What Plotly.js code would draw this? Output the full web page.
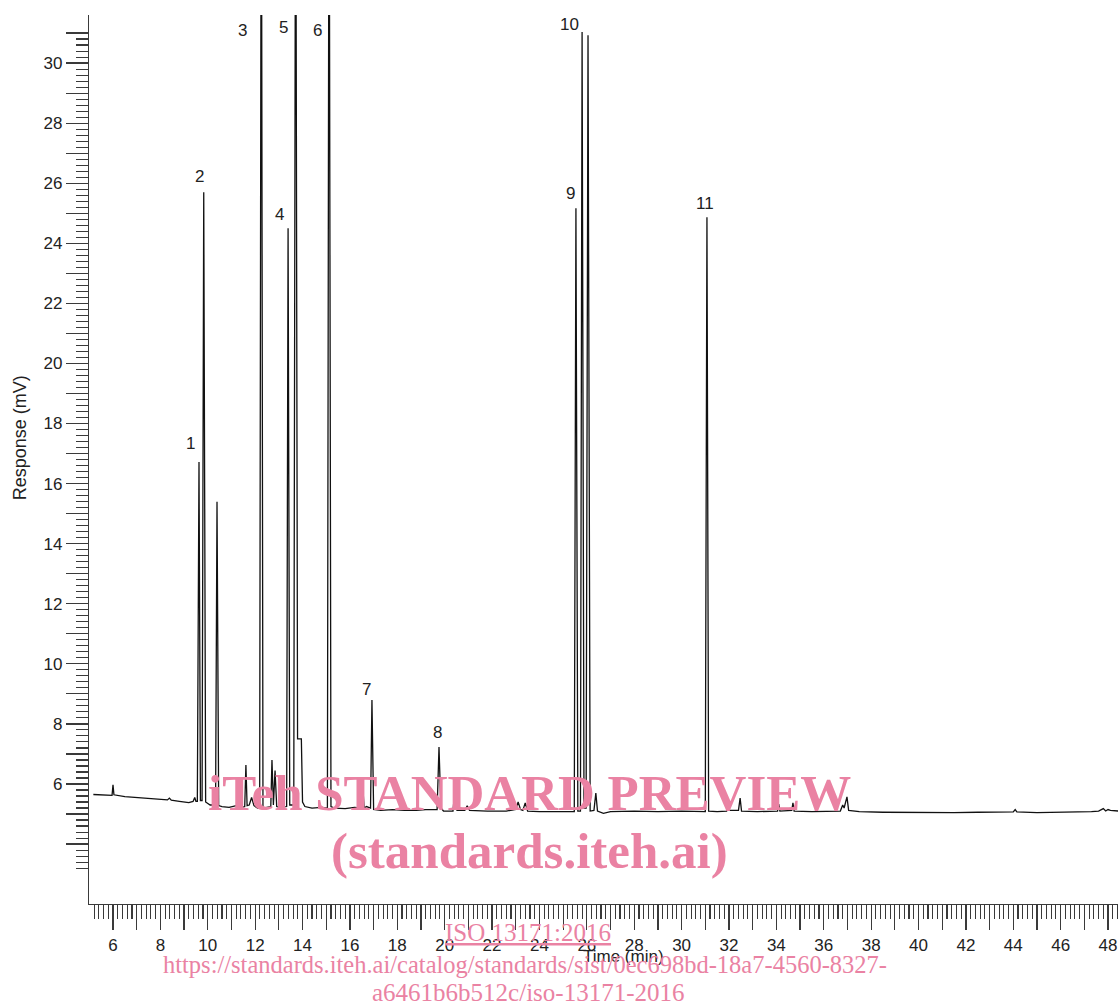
<!DOCTYPE html>
<html>
<head>
<meta charset="utf-8">
<script src="https://cdn.plot.ly/plotly-3.0.1.min.js"></script>
<style>html,body{margin:0;padding:0;background:#fff;}#chart{width:1118px;height:1008px;}</style>
</head>
<body>
<div id="chart"></div>
<script>
// Retention time (min)
const timeMin = [5.17,5.9,5.96,6.0,6.04,6.5,7.0,7.5,8.0,8.3,8.38,8.46,8.8,9.2,9.38,9.45,9.5,
  9.56,9.63,9.69,9.76,9.83,9.91,10.0,10.1,10.33,10.39,10.46,10.6,10.9,11.2,11.45,
  11.56,11.61,11.66,11.75,11.85,11.95,12.1,12.19,12.26,12.33,12.5,12.66,12.71,12.77,12.84,12.91,
  13.05,13.25,13.33,13.39,13.46,13.63,13.71,13.79,13.95,14.0,14.1,14.4,14.8,15.05,15.12,15.2,
  15.35,15.8,16.2,16.5,16.55,16.6,16.7,16.87,16.93,17.0,17.3,17.8,18.3,18.8,19.2,19.68,19.76,
  19.84,19.95,20.35,20.44,20.52,20.85,20.95,21.05,21.8,22.6,23.0,23.1,23.2,23.3,23.4,23.5,
  24.0,25.0,25.47,25.54,25.62,25.73,25.8,25.88,25.97,26.05,26.14,26.3,26.38,26.45,26.7,
  27.0,28.0,29.0,30.0,31.0,31.07,31.14,31.5,31.9,31.96,32.02,32.4,32.47,32.53,33.2,34.05,
  34.1,34.15,34.65,34.7,34.75,35.5,36.7,36.8,36.86,36.98,37.05,37.5,38.5,40.0,41.5,42.5,
  44.0,44.08,44.15,45.0,46.5,47.3,47.6,47.8,47.9,48.0,48.1,48.45];
// Detector response (mV)
const responseMV = [5.65,5.62,5.62,5.97,5.64,5.58,5.55,5.52,5.49,5.47,5.53,5.46,5.42,5.38,5.42,5.55,5.42,
  5.42,16.72,5.45,5.45,25.7,5.4,5.35,5.3,5.3,15.4,5.28,5.25,5.22,5.28,5.22,
  5.25,6.63,5.28,5.3,5.55,5.28,5.2,5.2,40,5.2,5.22,5.25,6.8,5.3,6.45,5.25,
  5.22,5.25,5.25,24.5,5.3,5.3,40,7.5,7.5,5.4,5.25,5.2,5.22,5.2,40,5.25,
  5.2,5.18,5.22,5.2,5.83,5.2,5.25,5.2,8.8,5.15,5.12,5.15,5.12,5.12,5.15,5.15,7.23,
  5.2,5.1,5.1,5.9,5.12,5.12,5.27,5.12,5.1,5.1,5.15,5.4,5.15,5.12,5.37,5.1,
  5.08,5.08,5.08,25.17,5.1,5.1,31.03,5.2,5.2,30.93,5.1,5.12,5.7,5.1,5.02,
  5.08,5.1,5.08,5.1,5.08,24.87,5.1,5.08,5.1,5.47,5.12,5.12,5.53,5.1,5.08,5.1,
  5.33,5.1,5.12,5.37,5.1,5.08,5.1,5.3,5.2,5.57,5.12,5.08,5.06,5.05,5.05,5.06,
  5.07,5.15,5.07,5.05,5.06,5.08,5.1,5.18,5.1,5.15,5.12,5.1];

// Peak numbers and where their labels sit (data coordinates)
const peakLabels = ['1','2','3','4','5','6','7','8','9','10','11'];
const labelTime = [9.25,9.67,11.45,13.01,13.18,14.65,16.72,19.68,25.33,25.25,30.99];
const labelResp = [17.32,26.24,31.07,24.97,31.17,31.07,9.13,7.70,25.67,31.27,25.31];

// Axis tick labels
const xTickLabels = ['6','8','10','12','14','16','18','20','22','24','26','28','30','32','34','36','38','40','42','44','46','48'];
const yTickLabels = ['6','8','10','12','14','16','18','20','22','24','26','28','30'];

const xTitle = 'Time (min)';
const yTitle = 'Response (mV)';

const watermark = ['iTeh STANDARD PREVIEW','(standards.iteh.ai)','ISO 13171:2016',
  'https://standards.iteh.ai/catalog/standards/sist/0ec698bd-18a7-4560-8327-',
  'a6461b6b512c/iso-13171-2016'];

// ---- tick arrays ----
function ticks(from, to, step, keepInt) {
  const out = [];
  const n = Math.round((to - from) / step);
  for (let i = 0; i <= n; i++) {
    const v = Math.round((from + i * step) * 10) / 10;
    const isInt = Math.abs(v - Math.round(v)) < 1e-6;
    if (keepInt ? isInt : !isInt) out.push(v);
  }
  return out;
}
const xMajor = ticks(6, 48, 1, true);
const xMajorText = xMajor.map(v => (xTickLabels.includes(String(v)) ? String(v) : ''));
const xMinor = ticks(5.2, 48.4, 0.2, false);
const yMajor = ticks(4, 31, 1, true);
const yMajorText = yMajor.map(v => (yTickLabels.includes(String(v)) ? String(v) : ''));
const yMinor = ticks(3.2, 30.8, 0.2, false);

const axisColor = '#3a3a3a';
const pink = 'rgb(234,130,163)';
const sans = 'Liberation Sans, Arial, sans-serif';
const serif = 'Liberation Serif, Times New Roman, serif';

const trace = {
  x: timeMin, y: responseMV, type: 'scatter', mode: 'lines',
  line: {color: '#111111', width: 1.3}, hoverinfo: 'x+y', showlegend: false
};

const annotations = peakLabels.map((t, i) => ({
  x: labelTime[i], y: labelResp[i], xref: 'x', yref: 'y', text: t, showarrow: false,
  xanchor: 'center', yanchor: 'middle', font: {family: sans, size: 17, color: '#222'}
}));

annotations.push({x: -0.0670, y: 0.524, xref: 'paper', yref: 'paper', text: yTitle, textangle: -90,
  showarrow: false, xanchor: 'center', yanchor: 'middle', font: {family: sans, size: 18, color: '#222'}});
annotations.push({x: 0.519, y: -0.0596, xref: 'paper', yref: 'paper', text: xTitle,
  showarrow: false, xanchor: 'center', yanchor: 'middle', font: {family: sans, size: 17, color: '#222'}});

const wm = [
  {t: '<b>' + watermark[0] + '</b>', x: 0.4276, y: 0.1249, s: 51},
  {t: '<b>' + watermark[1] + '</b>', x: 0.4276, y: 0.0596, s: 51},
  {t: '<span style="text-decoration:underline">' + watermark[2] + '</span>', x: 0.4266, y: -0.0315, s: 25},
  {t: watermark[3], x: 0.4237, y: -0.0686, s: 24.5},
  {t: watermark[4], x: 0.4266, y: -0.0990, s: 25}
];
wm.forEach(w => annotations.push({x: w.x, y: w.y, xref: 'paper', yref: 'paper', text: w.t,
  showarrow: false, xanchor: 'center', yanchor: 'middle', font: {family: serif, size: w.s, color: pink}}));

const layout = {
  width: 1118, height: 1008,
  margin: {l: 89, r: 0, t: 15, b: 104, pad: 0},
  paper_bgcolor: '#fff', plot_bgcolor: '#fff',
  showlegend: false,
  xaxis: {
    range: [4.987, 48.42], showgrid: false, zeroline: false,
    showline: true, linecolor: axisColor, linewidth: 1.2,
    tickmode: 'array', tickvals: xMajor, ticktext: xMajorText,
    ticks: 'outside', ticklen: 25, tickwidth: 1.2, tickcolor: axisColor,
    tickfont: {family: sans, size: 17, color: '#222'},
    minor: {tickmode: 'array', tickvals: xMinor, ticks: 'outside', ticklen: 14, tickwidth: 1.1, tickcolor: axisColor, showgrid: false}
  },
  yaxis: {
    range: [2.005, 31.6], showgrid: false, zeroline: false,
    showline: true, linecolor: axisColor, linewidth: 1.2,
    tickmode: 'array', tickvals: yMajor, ticktext: yMajorText,
    ticks: 'outside', ticklen: 22, tickwidth: 1.2, tickcolor: axisColor,
    tickfont: {family: sans, size: 17, color: '#222'},
    minor: {tickmode: 'array', tickvals: yMinor, ticks: 'outside', ticklen: 12, tickwidth: 1.1, tickcolor: axisColor, showgrid: false}
  },
  annotations: annotations
};

Plotly.newPlot('chart', [trace], layout, {displayModeBar: false, staticPlot: true});
</script>
</body>
</html>
